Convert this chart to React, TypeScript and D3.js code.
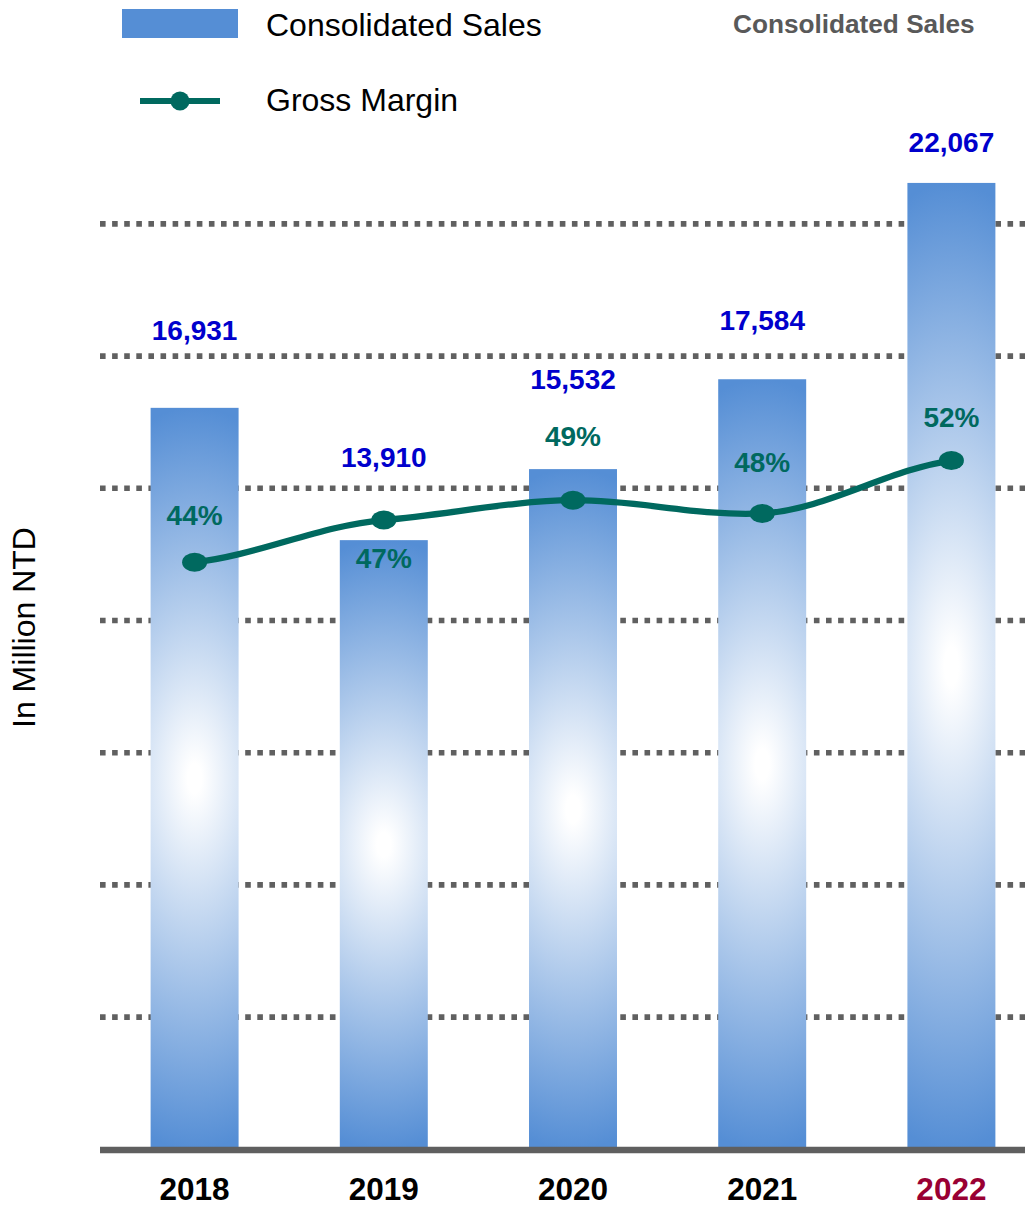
import React from "react";
import * as d3 from "d3";

const years = ["2018", "2019", "2020", "2021", "2022"];
const sales = [16931, 13910, 15532, 17584, 22067];
const grossMargin = [44.4, 47.6, 49.1, 48.1, 52.1];
const marginLabels = ["44%", "47%", "49%", "48%", "52%"];
const marginTicks = [10, 20, 30, 40, 50, 60, 70];
// manual label placement (vertical offsets in px from the mark)
const salesLabelDy = [-68, -73, -80, -49, -31];
const marginLabelDy = [-37, 48, -54, -41, -34];

const W = 1025;
const H = 1211;
const FONT = "'Liberation Sans', Arial, Helvetica, sans-serif";
const BLUE = "#558ed5";
const TEAL = "#00695f";

// Excel-like smoothed line: cubic Hermite segments with damped tangents
function smoothPath(pts: [number, number][], k = 0.5): string {
  const n = pts.length;
  const m: number[] = pts.map((p, i) => {
    if (i === 0) return k * (pts[1][1] - p[1]) / (pts[1][0] - p[0]);
    if (i === n - 1) return k * (p[1] - pts[i - 1][1]) / (p[0] - pts[i - 1][0]);
    return k * (pts[i + 1][1] - pts[i - 1][1]) / (pts[i + 1][0] - pts[i - 1][0]);
  });
  const p = d3.path();
  p.moveTo(pts[0][0], pts[0][1]);
  for (let i = 0; i < n - 1; i++) {
    const [x0, y0] = pts[i];
    const [x1, y1] = pts[i + 1];
    const h = (x1 - x0) / 3;
    p.bezierCurveTo(x0 + h, y0 + m[i] * h, x1 - h, y1 - m[i + 1] * h, x1, y1);
  }
  return p.toString();
}

export default function App() {
  const plotLeft = 100;
  const plotRight = 1046;
  const baseY = 1149.3;
  const topY = 91.7;

  const x = d3.scaleBand<string>().domain(years).range([plotLeft, plotRight]).paddingInner(0.535).paddingOuter(0.2675);
  const ySales = d3.scaleLinear().domain([0, 24150]).range([baseY, topY]);
  const yPct = d3.scaleLinear().domain([0, 80]).range([baseY, topY]);

  const cx = (i: number) => (x(years[i]) as number) + x.bandwidth() / 2;

  const pts: [number, number][] = grossMargin.map((v, i) => [cx(i), yPct(v)]);
  const linePath = smoothPath(pts, 0.5);

  return (
    <svg width={W} height={H} style={{ position: "absolute", left: 0, top: 0 }} fontFamily={FONT}>
      <defs>
        <radialGradient
          id="barGrad"
          gradientUnits="objectBoundingBox"
          cx="0.5"
          cy="0.5"
          r="0.5"
          gradientTransform="translate(0.5 0.5) scale(4 1) translate(-0.5 -0.5)"
        >
          <stop offset="0" stopColor="#ffffff" />
          <stop offset="0.04" stopColor="#ffffff" />
          <stop offset="1" stopColor={BLUE} />
        </radialGradient>
      </defs>
      <rect width={W} height={H} fill="#ffffff" />

      {/* gridlines */}
      {marginTicks.map((t) => (
        <line
          key={t}
          x1={plotLeft}
          x2={plotRight}
          y1={yPct(t)}
          y2={yPct(t)}
          stroke="#606060"
          strokeWidth={5.6}
          strokeDasharray="5.6 6.5"
        />
      ))}

      {/* bars */}
      {sales.map((v, i) => (
        <rect
          key={years[i]}
          x={x(years[i])}
          y={ySales(v)}
          width={x.bandwidth()}
          height={baseY - ySales(v)}
          fill="url(#barGrad)"
        />
      ))}

      {/* axis baseline */}
      <line x1={plotLeft} x2={plotRight} y1={baseY + 0.7} y2={baseY + 0.7} stroke="#5f5f5f" strokeWidth={6.5} />

      {/* gross margin line */}
      <path d={linePath} fill="none" stroke={TEAL} strokeWidth={6.3} strokeLinecap="round" />
      {pts.map(([px, py], i) => (
        <ellipse key={i} cx={px} cy={py} rx={12.5} ry={9.5} fill={TEAL} />
      ))}

      {/* sales labels */}
      {sales.map((v, i) => (
        <text
          key={"s" + i}
          x={cx(i)}
          y={ySales(v) + salesLabelDy[i]}
          textAnchor="middle"
          fontSize={28}
          fontWeight="bold"
          fill="#0000cc"
        >
          {d3.format(",")(v)}
        </text>
      ))}

      {/* margin labels */}
      {grossMargin.map((v, i) => (
        <text
          key={"m" + i}
          x={cx(i)}
          y={yPct(v) + marginLabelDy[i]}
          textAnchor="middle"
          fontSize={28}
          fontWeight="bold"
          fill={TEAL}
        >
          {marginLabels[i]}
        </text>
      ))}

      {/* year labels */}
      {years.map((yr, i) => (
        <text
          key={yr}
          x={cx(i)}
          y={1199.5}
          textAnchor="middle"
          fontSize={31.5}
          fontWeight="bold"
          fill={i === years.length - 1 ? "#990033" : "#000000"}
        >
          {yr}
        </text>
      ))}

      {/* y axis title */}
      <text
        transform="translate(35 627.5) rotate(-90)"
        textAnchor="middle"
        fontSize={32}
        fill="#000000"
      >
        In Million NTD
      </text>

      {/* legend */}
      <rect x={122} y={9} width={116} height={29} fill={BLUE} />
      <text x={266} y={36} fontSize={32} fill="#000000">
        Consolidated Sales
      </text>
      <line x1={140} x2={220} y1={101} y2={101} stroke={TEAL} strokeWidth={6} />
      <circle cx={180} cy={101} r={9.5} fill={TEAL} />
      <text x={266} y={111} fontSize={32} fill="#000000">
        Gross Margin
      </text>

      {/* top-right title */}
      <text x={733} y={33} fontSize={26.2} fontWeight="bold" fill="#595959">
        Consolidated Sales
      </text>
    </svg>
  );
}
